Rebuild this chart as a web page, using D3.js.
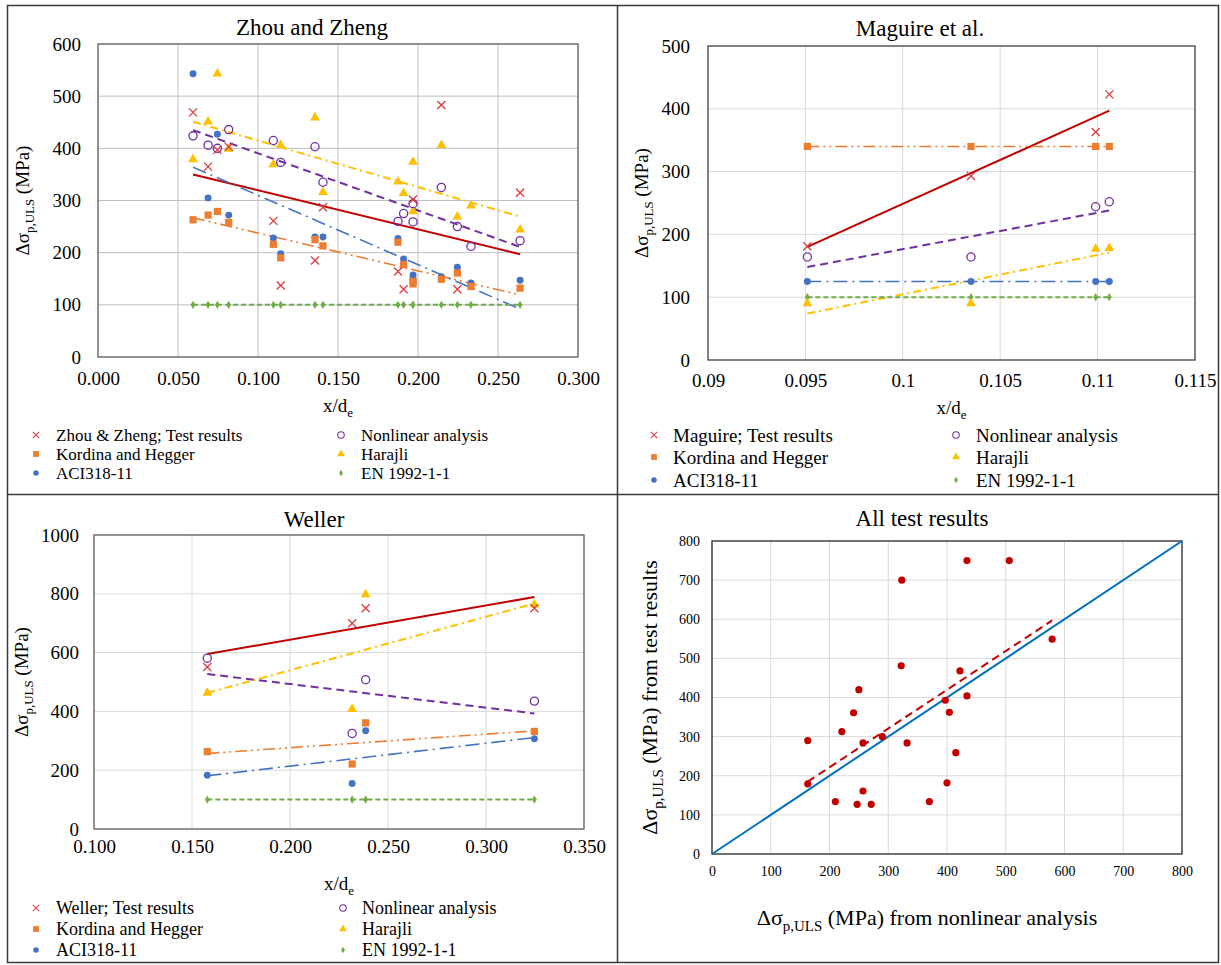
<!DOCTYPE html>
<html>
<head>
<meta charset="utf-8">
<script src="https://cdn.jsdelivr.net/npm/d3@7"></script>
<style>
  body { margin: 0; background: #fff; }
  svg, svg text { font-family: "Liberation Serif", "DejaVu Serif", serif; fill: #000; }
</style>
</head>
<body>
<svg id="chart" width="1221" height="965"></svg>
<script>
// ---- data ----
const seriesKeys = ['test', 'nonlinear', 'kordina', 'harajli', 'aci', 'en'];

// Zhou and Zheng
const zhouX         = [0.0594, 0.0688, 0.0746, 0.0817, 0.1096, 0.1142, 0.1356, 0.1406, 0.1875, 0.1910, 0.1969, 0.1969, 0.2146, 0.2246, 0.2331, 0.2638];
const zhouTest      = [469, 365, 397, 403, 261, 137, 185, 287, 164, 130, 302, null, 483, 130, null, 315];
const zhouNonlinear = [424, 406, 400, 436, 415, 373, 403, 335, 260, 275, 294, 259, 325, 250, 212, 223];
const zhouKordina   = [263, 272, 279, 258, 216, 190, 225, 213, 220, 177, 140, 145, 149, 161, 135, 132];
const zhouHarajli   = [379, 451, 543, 399, 369, 406, 459, 316, 336, 314, 374, 279, 406, 269, 290, 244];
const zhouAci       = [543, 305, 427, 272, 228, 198, 230, 230, 227, 188, 157, 150, 154, 172, 142, 147];
const zhouEn        = [100, 100, 100, 100, 100, 100, 100, 100, 100, 100, 100, 100, 100, 100, 100, 100];
const zhouTrendFrom = [350, 435, 267, 451, 364, 100];   // at first x, order = seriesKeys
const zhouTrendTo   = [197, 211, 119, 269,  92, 100];   // at last x

// Maguire et al.
const magX         = [0.0951, 0.1035, 0.1099, 0.1106];
const magTest      = [181, 293, 363, 423];
const magNonlinear = [164, 164, 244, 252];
const magKordina   = [340, 340, 340, 340];
const magHarajli   = [90, 90, 177, 178];
const magAci       = [125, 125, 125, 125];
const magEn        = [100, 100, 100, 100];
const magTrendFrom = [180, 148, 340,  74, 125, 100];
const magTrendTo   = [397, 238, 340, 171, 125, 100];

// Weller
const welX         = [0.1578, 0.2317, 0.2386, 0.3247];
const welTest      = [551, 700, 751, 751];
const welNonlinear = [581, 325, 508, 435];
const welKordina   = [263, 221, 361, 332];
const welHarajli   = [463, 408, 798, 764];
const welAci       = [183, 155, 334, 307];
const welEn        = [100, 100, 100, 100];
const welTrendFrom = [595, 527, 257, 463, 181, 100];
const welTrendTo   = [789, 393, 334, 767, 311, 100];

// All test results
const allNonlinear = [163, 163, 210, 221, 241, 247, 250, 257, 257, 271, 290, 323, 322, 332, 370, 434, 506, 579, 422, 434, 397, 404, 415, 400];
const allTest      = [290, 179, 134, 313, 361, 127, 420, 284, 161, 127, 300, 700, 481, 284, 134, 750, 750, 549, 468, 404, 393, 362, 259, 182];
const allFitX      = [163, 579];
const allFitY      = [185, 597];
const equalityLine = [0, 800];

const legendNames = {
  nonlinear: 'Nonlinear analysis', kordina: 'Kordina and Hegger',
  harajli: 'Harajli', aci: 'ACI318-11', en: 'EN 1992-1-1'
};

const SERIF = '"Liberation Serif", "DejaVu Serif", serif';

// ---- styles ----
const styles = {
  test:      { line: '#C00000', mark: '#DC3B3F', shape: 'x',        dash: null,            width: 2 },
  nonlinear: { line: '#7030A0', mark: '#7030A0', shape: 'ocircle',  dash: '8,5',           width: 2 },
  kordina:   { line: '#ED7D31', mark: '#ED7D31', shape: 'square',   dash: '12,4,2,4,2,4',  width: 1.6 },
  harajli:   { line: '#FFC000', mark: '#FFC000', shape: 'triangle', dash: '8,4,2,4',       width: 2 },
  aci:       { line: '#4472C4', mark: '#4472C4', shape: 'circle',   dash: '14,5,2,5',      width: 1.6 },
  en:        { line: '#70AD47', mark: '#70AD47', shape: 'diamond',  dash: '5,3',           width: 2 }
};

const shapePath = {
  x:        'M-4,-4L4,4M-4,4L4,-4',
  square:   d3.symbol(d3.symbolSquare, 52)(),
  circle:   d3.symbol(d3.symbolCircle, 38)(),
  ocircle:  d3.symbol(d3.symbolCircle, 52)(),
  triangle: d3.symbol(d3.symbolTriangle, 42)(),
  diamond:  d3.symbol(d3.symbolDiamond, 20)()
};

function styleMark(sel, key) {
  const s = styles[key];
  if (s.shape === 'x' || s.shape === 'ocircle') {
    sel.attr('fill', 'none').attr('stroke', s.mark).attr('stroke-width', 1.3);
  } else {
    sel.attr('fill', s.mark).attr('stroke', 'none');
  }
  return sel.attr('d', shapePath[s.shape]);
}

const svg = d3.select('#chart');

// frame
svg.append('rect').attr('x', 7.5).attr('y', 5.5).attr('width', 1211).attr('height', 957)
  .attr('fill', 'none').attr('stroke', '#3a3a3a').attr('stroke-width', 1.5);
svg.append('line').attr('x1', 617.5).attr('x2', 617.5).attr('y1', 5).attr('y2', 963)
  .attr('stroke', '#3a3a3a').attr('stroke-width', 1.5);
svg.append('line').attr('x1', 7).attr('x2', 1219).attr('y1', 494.5).attr('y2', 494.5)
  .attr('stroke', '#3a3a3a').attr('stroke-width', 1.5);

// Δσp,ULS style label with subscript
function stressLabel(text, size, tail) {
  text.style('font-family', SERIF).attr('font-size', size);
  text.append('tspan').text('Δσ');
  text.append('tspan').attr('font-size', size * 0.68).attr('dy', size * 0.28).text('p,ULS');
  text.append('tspan').attr('dy', -size * 0.28).text(' (MPa)' + (tail || ''));
}

function xdLabel(text, size) {
  text.style('font-family', SERIF).attr('font-size', size);
  text.append('tspan').text('x/d');
  text.append('tspan').attr('font-size', size * 0.68).attr('dy', size * 0.28).text('e');
}

function drawAxes(g, p, x, y) {
  // grid
  g.append('g').selectAll('line').data(p.xTicks.slice(1, -1)).join('line')
    .attr('x1', d => x(d)).attr('x2', d => x(d)).attr('y1', p.top).attr('y2', p.bottom)
    .attr('stroke', p.grid).attr('stroke-width', 1);
  g.append('g').selectAll('line').data(p.yTicks.slice(1, -1)).join('line')
    .attr('y1', d => y(d)).attr('y2', d => y(d)).attr('x1', p.left).attr('x2', p.right)
    .attr('stroke', p.grid).attr('stroke-width', 1);

  const xa = g.append('g').attr('transform', `translate(0,${p.bottom})`)
    .call(d3.axisBottom(x).tickValues(p.xTicks).tickFormat(p.xFmt).tickSize(0).tickPadding(p.xPad));
  const ya = g.append('g').attr('transform', `translate(${p.left},0)`)
    .call(d3.axisLeft(y).tickValues(p.yTicks).tickFormat(d3.format('d')).tickSize(0).tickPadding(p.yPad));
  [xa, ya].forEach(a => {
    a.attr('font-family', null).attr('font-size', null);
    a.select('.domain').remove();
    a.selectAll('text').style('font-family', SERIF).style('font-size', p.tickSize + 'px')
      .attr('fill', '#000');
  });

  g.append('rect').attr('x', p.left).attr('y', p.top)
    .attr('width', p.right - p.left).attr('height', p.bottom - p.top)
    .attr('fill', 'none').attr('stroke', p.border).attr('stroke-width', 1.3);

  g.append('text').attr('x', p.titleX).attr('y', p.titleY).attr('text-anchor', 'middle')
    .style('font-family', SERIF).attr('font-size', 23).text(p.title);
}

function drawSeriesPanel(p) {
  const g = svg.append('g');
  const x = d3.scaleLinear().domain(p.xDomain).range([p.left, p.right]);
  const y = d3.scaleLinear().domain(p.yDomain).range([p.bottom, p.top]);
  drawAxes(g, p, x, y);

  xdLabel(g.append('text').attr('x', (p.left + p.right) / 2).attr('y', p.xLabelY)
    .attr('text-anchor', 'middle'), 19);
  stressLabel(g.append('text').attr('text-anchor', 'middle')
    .attr('transform', `translate(${p.yLabelX},${(p.top + p.bottom) / 2}) rotate(-90)`), 19);

  const x0 = d3.min(p.xs), x1 = d3.max(p.xs);

  // trend lines
  seriesKeys.forEach((key, i) => {
    const s = styles[key];
    g.append('line')
      .attr('x1', x(x0)).attr('y1', y(p.trendFrom[i]))
      .attr('x2', x(x1)).attr('y2', y(p.trendTo[i]))
      .attr('stroke', s.line).attr('stroke-width', s.width)
      .attr('stroke-dasharray', s.dash);
  });

  // markers
  ['en', 'aci', 'kordina', 'harajli', 'nonlinear', 'test'].forEach(key => {
    const pts = p.xs.map((xv, i) => ({ x: xv, v: p.series[key][i] })).filter(d => d.v != null);
    g.append('g').selectAll('path').data(pts).join('path')
      .attr('transform', d => `translate(${x(d.x)},${y(d.v)})`)
      .call(sel => styleMark(sel, key));
  });

  // legend
  const cols = [['test', 'kordina', 'aci'], ['nonlinear', 'harajli', 'en']];
  cols.forEach((col, ci) => {
    col.forEach((key, ri) => {
      const lx = p.legend.cols[ci], ly = p.legend.rows[ri];
      g.append('path').attr('transform', `translate(${lx[0]},${ly}) scale(0.8)`)
        .call(sel => styleMark(sel, key));
      g.append('text').attr('x', lx[1]).attr('y', ly).attr('dy', '0.35em')
        .style('font-family', SERIF).attr('font-size', p.legend.size)
        .text(key === 'test' ? p.legend.testName : legendNames[key]);
    });
  });
}

drawSeriesPanel({
  title: 'Zhou and Zheng', titleX: 312, titleY: 35,
  left: 98, top: 44, right: 578, bottom: 357,
  xDomain: [0, 0.3], xTicks: d3.range(0, 7).map(i => i * 0.05), xFmt: d3.format('.3f'),
  yDomain: [0, 600], yTicks: d3.range(0, 7).map(i => i * 100),
  grid: '#bfbfbf', border: '#595959', tickSize: 19, xPad: 15, yPad: 17,
  xLabelY: 412, yLabelX: 29,
  xs: zhouX,
  series: { test: zhouTest, nonlinear: zhouNonlinear, kordina: zhouKordina, harajli: zhouHarajli, aci: zhouAci, en: zhouEn },
  trendFrom: zhouTrendFrom, trendTo: zhouTrendTo,
  legend: { testName: 'Zhou & Zheng; Test results', size: 17, rows: [435, 454, 473], cols: [[36, 56], [341, 361]] }
});

drawSeriesPanel({
  title: 'Maguire et al.', titleX: 920, titleY: 36,
  left: 708, top: 46, right: 1195, bottom: 360,
  xDomain: [0.09, 0.115], xTicks: d3.range(0, 6).map(i => 0.09 + i * 0.005), xFmt: d => String(+d.toFixed(3)),
  yDomain: [0, 500], yTicks: d3.range(0, 6).map(i => i * 100),
  grid: '#d9d9d9', border: '#404040', tickSize: 19, xPad: 14, yPad: 18,
  xLabelY: 414, yLabelX: 648,
  xs: magX,
  series: { test: magTest, nonlinear: magNonlinear, kordina: magKordina, harajli: magHarajli, aci: magAci, en: magEn },
  trendFrom: magTrendFrom, trendTo: magTrendTo,
  legend: { testName: 'Maguire; Test results', size: 19, rows: [435, 457, 480], cols: [[654, 673], [956, 976]] }
});

drawSeriesPanel({
  title: 'Weller', titleX: 314, titleY: 527,
  left: 94, top: 535, right: 584, bottom: 829,
  xDomain: [0.1, 0.35], xTicks: d3.range(0, 6).map(i => 0.1 + i * 0.05), xFmt: d3.format('.3f'),
  yDomain: [0, 1000], yTicks: d3.range(0, 6).map(i => i * 200),
  grid: '#d9d9d9', border: '#595959', tickSize: 19, xPad: 11, yPad: 15,
  xLabelY: 890, yLabelX: 28,
  xs: welX,
  series: { test: welTest, nonlinear: welNonlinear, kordina: welKordina, harajli: welHarajli, aci: welAci, en: welEn },
  trendFrom: welTrendFrom, trendTo: welTrendTo,
  legend: { testName: 'Weller; Test results', size: 18, rows: [908, 929, 950], cols: [[36, 56], [343, 362]] }
});

// All test results
(function () {
  const p = {
    title: 'All test results', titleX: 922, titleY: 526,
    left: 712, top: 541, right: 1182, bottom: 854,
    xTicks: d3.range(0, 9).map(i => i * 100), yTicks: d3.range(0, 9).map(i => i * 100),
    xFmt: d3.format('d'), grid: '#d9d9d9', border: '#262626', tickSize: 14, xPad: 12, yPad: 12
  };
  const g = svg.append('g');
  const x = d3.scaleLinear().domain([0, 800]).range([p.left, p.right]);
  const y = d3.scaleLinear().domain([0, 800]).range([p.bottom, p.top]);
  drawAxes(g, p, x, y);

  stressLabel(g.append('text').attr('x', 927).attr('y', 925).attr('text-anchor', 'middle'),
    22, ' from nonlinear analysis');
  stressLabel(g.append('text').attr('text-anchor', 'middle')
    .attr('transform', `translate(657,${(p.top + p.bottom) / 2}) rotate(-90)`),
    22, ' from test results');

  g.append('line')
    .attr('x1', x(equalityLine[0])).attr('y1', y(equalityLine[0]))
    .attr('x2', x(equalityLine[1])).attr('y2', y(equalityLine[1]))
    .attr('stroke', '#0070C0').attr('stroke-width', 2);

  g.append('line')
    .attr('x1', x(allFitX[0])).attr('y1', y(allFitY[0]))
    .attr('x2', x(allFitX[1])).attr('y2', y(allFitY[1]))
    .attr('stroke', '#C00000').attr('stroke-width', 2).attr('stroke-dasharray', '8,5');

  g.append('g').selectAll('circle').data(allNonlinear.map((v, i) => [v, allTest[i]])).join('circle')
    .attr('cx', d => x(d[0])).attr('cy', d => y(d[1])).attr('r', 3.6)
    .attr('fill', '#C00000');
})();
</script>
</body>
</html>
